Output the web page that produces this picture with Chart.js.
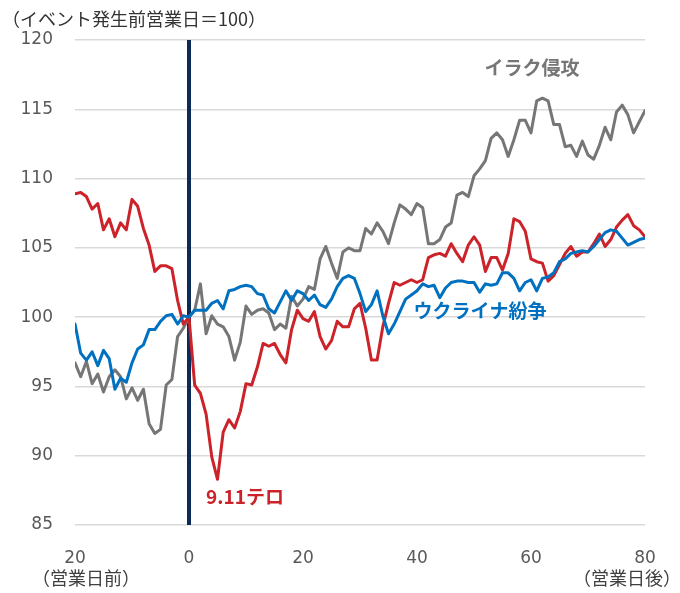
<!DOCTYPE html>
<html>
<head>
<meta charset="utf-8">
<script src="https://cdn.jsdelivr.net/npm/chart.js@4"></script>
<style>
  body { margin: 0; background: #fff; }
  canvas { display: block; }
</style>
</head>
<body>
<canvas id="eventChart" width="680" height="593"></canvas>
<script>

// 営業日 (-20 .. 80)
const days = Array.from({ length: 101 }, (_, i) => i - 20);

const xTicks = [-20, 0, 20, 40, 60, 80];
const xTickLabels = ["20", "0", "20", "40", "60", "80"];
const yTicks = [85, 90, 95, 100, 105, 110, 115, 120];

const ukraina = [
    99.5, 97.4, 96.9, 97.5, 96.5, 97.6, 97.0, 94.8, 95.6, 95.3, 96.7, 97.7, 98.0, 99.1, 99.1, 99.7, 100.1, 100.2, 99.5, 100.1, 100.0,
    100.5, 100.5, 100.5, 101.0, 101.2, 100.6, 101.9, 102.0, 102.2, 102.3, 102.2, 101.7, 101.6, 100.6, 100.3, 101.1, 101.9, 101.2, 101.9,
    101.7, 101.2, 101.6, 100.9, 100.7, 101.3, 102.2, 102.8, 103.0, 102.8, 101.7, 100.4, 100.9, 101.9, 100.1, 98.8, 99.5, 100.4, 101.3, 101.6, 101.9, 102.4,
    102.2, 102.3, 101.4, 102.1, 102.5, 102.6, 102.6, 102.5, 102.5, 101.8, 102.4, 102.3, 102.4, 103.2, 103.2, 102.8, 101.9, 102.5, 102.7, 101.9,
    102.8, 102.9, 103.2, 104.0, 104.2, 104.6, 104.7, 104.8, 104.7, 105.1, 105.6, 106.1, 106.3, 106.2, 105.7, 105.2, 105.4, 105.6, 105.7
];

const tero911 = [
    108.9, 109.0, 108.7, 107.8, 108.2, 106.3, 107.1, 105.8, 106.8, 106.3, 108.5, 108.0, 106.4, 105.2, 103.3, 103.7, 103.7, 103.5, 101.2, 99.5, 100.0,
    95.1, 94.5, 93.0, 89.9, 88.3, 91.7, 92.6, 92.0, 93.2, 95.2, 95.1, 96.4, 98.1, 97.9, 98.1, 97.3, 96.7, 99.1, 100.5, 99.9, 99.7, 100.4, 98.6,
    97.7, 98.3, 99.7, 99.3, 99.3, 100.6, 101.0, 99.2, 96.9, 96.9, 99.3, 101.0, 102.5, 102.3, 102.5, 102.7, 102.5, 102.7,
    104.3, 104.5, 104.6, 104.4, 105.3, 104.6, 104.0, 105.2, 105.8, 105.2, 103.3, 104.3, 104.3, 103.4, 104.6, 107.1, 106.9, 106.2, 104.2, 104.0, 103.9,
    102.6, 103.0, 103.8, 104.6, 105.1, 104.4, 104.7, 104.7, 105.3, 106.0, 105.1, 105.6, 106.5, 107.0, 107.4, 106.6, 106.3, 105.8
];

const iraku = [
    96.7, 95.7, 96.8, 95.2, 95.9, 94.6, 95.7, 96.2, 95.7, 94.1, 94.9, 94.0, 94.8, 92.3, 91.6, 91.9, 95.1, 95.5, 98.6, 99.2, 100.0,
    100.5, 102.4, 98.8, 100.1, 99.5, 99.3, 98.6, 96.9, 98.2, 100.8, 100.2, 100.5, 100.6, 100.3, 99.1, 99.5, 99.2, 101.5, 100.8,
    101.3, 102.2, 102.0, 104.2, 105.1, 103.9, 102.8, 104.7, 105.0, 104.8, 104.8, 106.4, 106.0, 106.8, 106.2, 105.3, 106.8, 108.1, 107.8, 107.4, 108.2, 107.9,
    105.3, 105.3, 105.6, 106.5, 106.8, 108.8, 109.0, 108.7, 110.2, 110.7, 111.3, 112.9, 113.3, 112.8, 111.6, 112.8, 114.2, 114.2, 113.3, 115.6,
    115.8, 115.6, 113.9, 113.9, 112.3, 112.4, 111.6, 112.7, 111.7, 111.4, 112.4, 113.7, 112.8, 114.8, 115.3, 114.6, 113.3, 114.1, 114.9
];

const ROJO = "#cc2229";
const GRIS = "#767676";
const AZUL = "#0070c0";

function serie(valores) {
    return days.map((d, i) => ({ x: d, y: valores[i] }));
}

// textos y la linea vertical en el dia 0
const textosPlugin = {
    id: "textos",
    beforeDatasetsDraw(chart) {
        const ctx = chart.ctx;
        const area = chart.chartArea;
        const x0 = chart.scales.x.getPixelForValue(0);
        ctx.save();
        ctx.strokeStyle = "#0b2a55";
        ctx.lineWidth = 4;
        ctx.beginPath();
        ctx.moveTo(x0, area.top);
        ctx.lineTo(x0, area.bottom);
        ctx.stroke();
        ctx.restore();
    },
    afterDraw(chart) {
        const ctx = chart.ctx;
        ctx.save();
        ctx.textBaseline = "middle";

        ctx.font = "18px 'Noto Sans CJK JP'";
        ctx.fillStyle = "#333333";
        ctx.textAlign = "left";
        ctx.fillText("（イベント発生前営業日＝100）", 2, 19);

        ctx.fillStyle = "#404040";
        ctx.textAlign = "center";
        ctx.fillText("（営業日前）", 86, 578);
        ctx.fillText("（営業日後）", 627, 578);

        ctx.font = "bold 19px 'Noto Sans CJK JP'";
        ctx.fillStyle = GRIS;
        ctx.fillText("イラク侵攻", 532, 68);
        ctx.fillStyle = AZUL;
        ctx.fillText("ウクライナ紛争", 480, 311);
        ctx.fillStyle = ROJO;
        ctx.fillText("9.11テロ", 245, 497);
        ctx.restore();
    }
};

const comun = {
    borderWidth: 3,
    pointRadius: 0,
    tension: 0,
    borderJoinStyle: "round",
    borderCapStyle: "round",
    fill: false
};

new Chart(document.getElementById("eventChart"), {
    type: "line",
    data: {
        datasets: [
            Object.assign({ label: "ウクライナ紛争", data: serie(ukraina), borderColor: AZUL }, comun),
            Object.assign({ label: "9.11テロ", data: serie(tero911), borderColor: ROJO }, comun),
            Object.assign({ label: "イラク侵攻", data: serie(iraku), borderColor: GRIS }, comun)
        ]
    },
    options: {
        responsive: false,
        animation: false,
        devicePixelRatio: 1,
        layout: { padding: { top: 40, right: 35, left: 0, bottom: 0 } },
        plugins: {
            legend: { display: false },
            tooltip: { enabled: false }
        },
        scales: {
            x: {
                type: "linear",
                min: -20,
                max: 80,
                afterBuildTicks: s => { s.ticks = xTicks.map(v => ({ value: v })); },
                afterFit: s => { s.height = 68; },
                grid: { display: false },
                border: { display: false },
                ticks: {
                    autoSkip: false,
                    maxRotation: 0,
                    padding: 15,
                    color: "#595959",
                    font: { family: "'DejaVu Sans'", size: 17 },
                    callback: v => xTickLabels[xTicks.indexOf(v)]
                }
            },
            y: {
                min: 85,
                max: 120,
                afterBuildTicks: s => { s.ticks = yTicks.map(v => ({ value: v })); },
                afterFit: s => { s.width = 75; },
                grid: { color: "#d9d9d9", lineWidth: 1.5, drawTicks: false },
                border: { display: false },
                ticks: {
                    padding: 22,
                    color: "#595959",
                    font: { family: "'DejaVu Sans'", size: 17 }
                }
            }
        }
    },
    plugins: [textosPlugin]
});

</script>
</body>
</html>
